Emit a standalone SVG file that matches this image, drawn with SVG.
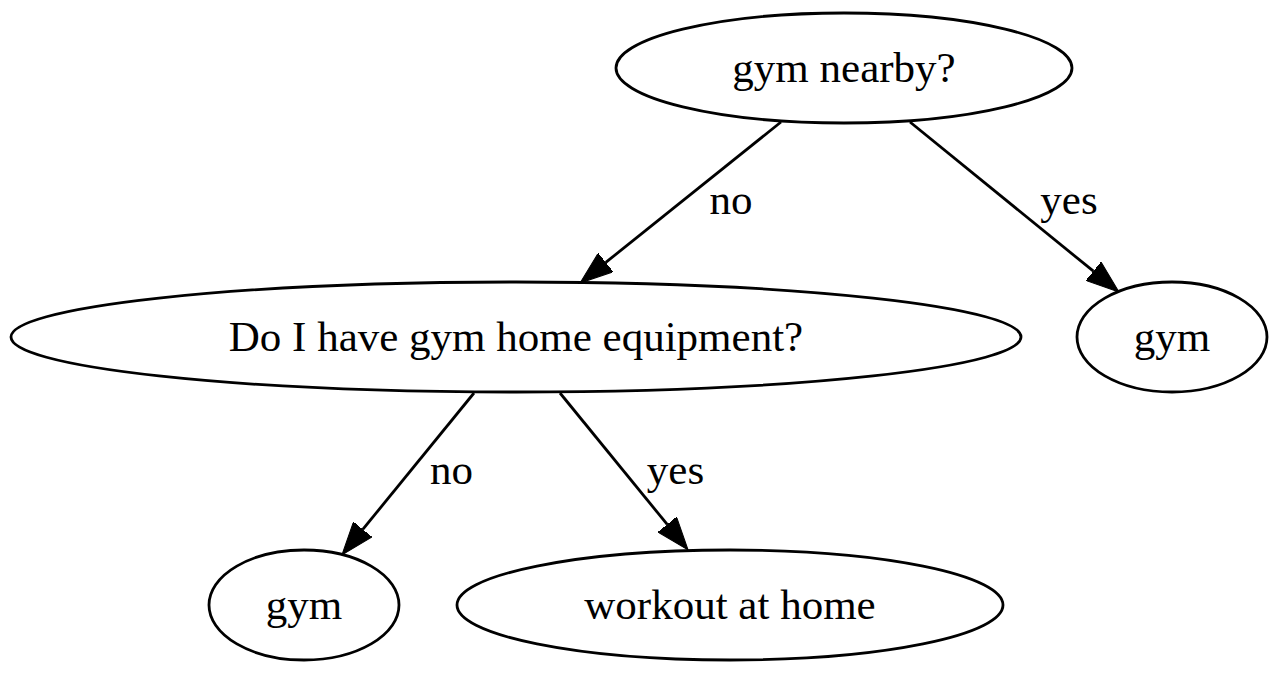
<svg xmlns="http://www.w3.org/2000/svg" width="1280" height="674" viewBox="0 0 1280 674">
<style>
.node ellipse{fill:none;stroke:#000;stroke-width:2.8}
.node text,.lbl{font-family:"Liberation Serif","Times New Roman",serif;font-size:43px;fill:#000;text-anchor:middle}
.edge{fill:none;stroke:#000;stroke-width:2.8}
</style>
<defs>
<marker id="arr" viewBox="0 0 33 24" refX="0" refY="12" markerWidth="33" markerHeight="24" markerUnits="userSpaceOnUse" orient="auto">
<path d="M0,0 L33,12 L0,24 Z" fill="#000" stroke="#000" stroke-width="1"/>
</marker>
</defs>
<rect width="1280" height="674" fill="#fff"/>
<g id="connectors">
<line class="edge" x1="781" y1="122" x2="605.8" y2="262.4" marker-end="url(#arr)"/>
<text class="lbl" x="731" y="214">no</text>
<line class="edge" x1="910" y1="122" x2="1093.4" y2="271.2" marker-end="url(#arr)"/>
<text class="lbl" x="1069" y="214">yes</text>
<line class="edge" x1="474" y1="393" x2="362.8" y2="529.4" marker-end="url(#arr)"/>
<text class="lbl" x="451.5" y="484">no</text>
<line class="edge" x1="560" y1="393" x2="667.2" y2="524.4" marker-end="url(#arr)"/>
<text class="lbl" x="675.5" y="484">yes</text>
</g>
<g id="n_gym_nearby" class="node">
<ellipse cx="844" cy="68" rx="228" ry="55"/>
<text x="844" y="82">gym nearby?</text>
</g>
<g id="n_home_equipment" class="node">
<ellipse cx="516" cy="337" rx="505" ry="55"/>
<text x="516" y="351">Do I have gym home equipment?</text>
</g>
<g id="n_gym_right" class="node">
<ellipse cx="1172" cy="337" rx="95" ry="55"/>
<text x="1172" y="351">gym</text>
</g>
<g id="n_gym_bottom" class="node">
<ellipse cx="304" cy="605" rx="95" ry="55"/>
<text x="304" y="619">gym</text>
</g>
<g id="n_workout" class="node">
<ellipse cx="730" cy="605" rx="273" ry="55"/>
<text x="730" y="619">workout at home</text>
</g>
</svg>
